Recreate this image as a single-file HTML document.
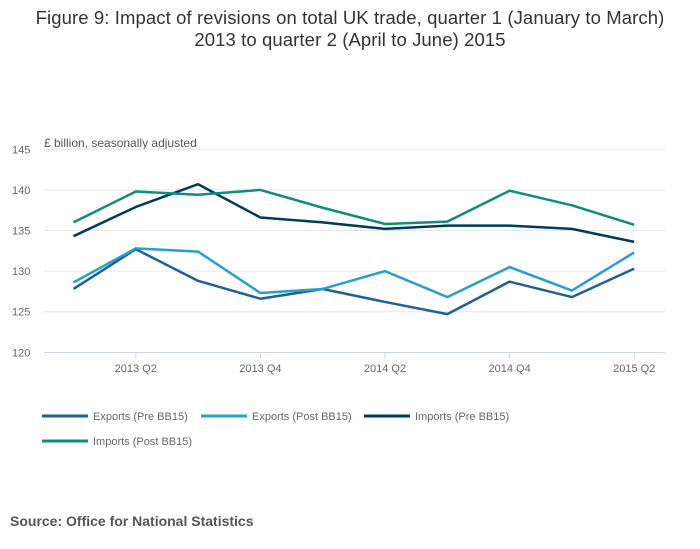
<!DOCTYPE html>
<html><head><meta charset="utf-8"><style>
body{margin:0;background:#fff;}
svg{display:block;font-family:"Liberation Sans",sans-serif;}
</style></head><body>
<svg id="chart" width="700" height="549">
<text x="350" y="24" text-anchor="middle" font-size="18.5" letter-spacing="0.1" fill="#333">Figure 9: Impact of revisions on total UK trade, quarter 1 (January to March)</text>
<text x="350" y="46" text-anchor="middle" font-size="18.5" letter-spacing="0.1" fill="#333">2013 to quarter 2 (April to June) 2015</text>
<text x="44" y="147" font-size="12" fill="#555">£ billion, seasonally adjusted</text>
<g id="grid"></g><g id="xaxis"></g><g id="series"></g><g id="legend"></g>
<text x="10" y="526" font-size="14" font-weight="bold" fill="#555">Source: Office for National Statistics</text>
</svg>
<script>
const categories=["2013 Q1","2013 Q2","2013 Q3","2013 Q4","2014 Q1","2014 Q2","2014 Q3","2014 Q4","2015 Q1","2015 Q2"];
const yTicks=[120,125,130,135,140,145];
const exportsPre=[127.8,132.7,128.8,126.6,127.8,126.2,124.7,128.7,126.8,130.3];
const exportsPost=[128.6,132.8,132.4,127.3,127.8,130.0,126.8,130.5,127.6,132.3];
const importsPre=[134.3,137.9,140.7,136.6,136.0,135.2,135.6,135.6,135.2,133.6];
const importsPost=[136.0,139.8,139.4,140.0,137.8,135.8,136.1,139.9,138.1,135.7];
const NS="http://www.w3.org/2000/svg";
const x=i=>73.5+i*62.3;
const y=v=>352.3-(v-120)*8.12;
function mk(tag,attrs,parent){const e=document.createElementNS(NS,tag);for(const k in attrs)e.setAttribute(k,attrs[k]);parent.appendChild(e);return e;}
const grid=document.getElementById('grid');
yTicks.forEach(t=>{
  if(t>120){const l=mk('line',{x1:44,x2:665,y1:y(t),y2:y(t),stroke:'#e6e6e6','stroke-width':1},grid);
  
  }
  const tx=mk('text',{x:12,y:y(t)+4,'font-size':11,fill:'#666'},grid);tx.textContent=t;
  
  
});
const xa=document.getElementById('xaxis');
const ax=mk('line',{x1:44,x2:665,y1:352.5,y2:352.5,stroke:'#ccd6eb','stroke-width':1},xa);


categories.forEach((c,i)=>{
  if(i%2===1){
    mk('line',{x1:x(i),x2:x(i),y1:352,y2:359,stroke:'#ccd6eb'},xa);
    const t=mk('text',{x:x(i),y:372,'text-anchor':'middle','font-size':11,fill:'#666'},xa);t.textContent=c;
    
    
  }
});
const seriesDefs=[["Exports (Pre BB15)",exportsPre,"#206095"],["Exports (Post BB15)",exportsPost,"#27a0cc"],["Imports (Pre BB15)",importsPre,"#003c57"],["Imports (Post BB15)",importsPost,"#118c7b"]];
const sg=document.getElementById('series');
seriesDefs.forEach(s=>{
  const p=mk('polyline',{points:s[1].map((v,i)=>x(i)+','+y(v)).join(' '),fill:'none',stroke:s[2],'stroke-width':2.5,'stroke-linejoin':'round'},sg);
  
  
});
const lg=document.getElementById('legend');
const lpos=[[42,416],[201,416],[364,416],[42,441]];
seriesDefs.forEach((s,i)=>{
  const g=mk('g',{},lg);
  
  
  mk('line',{x1:lpos[i][0],x2:lpos[i][0]+46,y1:lpos[i][1],y2:lpos[i][1],stroke:s[2],'stroke-width':3},g);
  const t=mk('text',{x:lpos[i][0]+51,y:lpos[i][1]+4,'font-size':11,fill:'#666'},g);t.textContent=s[0];
});
</script>
</body></html>
